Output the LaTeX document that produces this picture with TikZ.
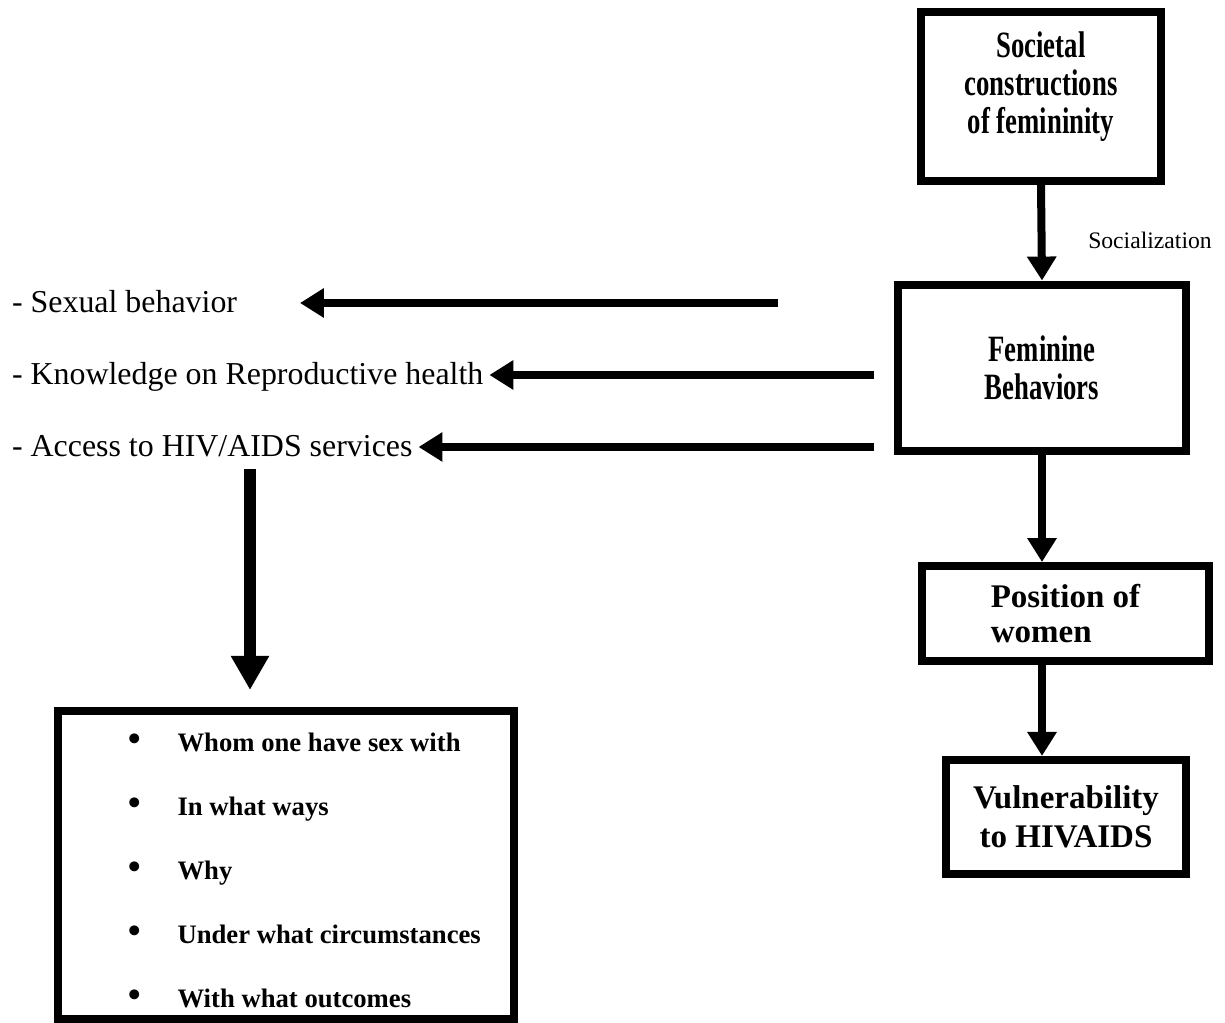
\documentclass[tikz,border=0pt]{standalone}
\usepackage{fontspec}
\setmainfont{Liberation Serif}
\newfontfamily\narrowfont[FakeStretch=0.72]{Liberation Serif}
\usetikzlibrary{arrows.meta}

\tikzset{
	box/.style={draw, line width=2.91pt, inner sep=0pt, font=\bfseries\fontsize{12}{13.8}\selectfont},
	narrowbox/.style={font=\narrowfont\bfseries\fontsize{13.5}{13.8}\selectfont},
	sidetext/.style={inner sep=0pt, outer xsep=2.2pt, anchor=base west, font=\fontsize{11.6}{14}\selectfont},
	itemtext/.style={inner sep=0pt, anchor=base west, font=\bfseries\fontsize{9.7}{12}\selectfont},
	flow/.style={line width=2.91pt, -{Triangle[length=8.7pt, width=10.2pt]}},
	bigflow/.style={line width=4.36pt, -{Triangle[length=12.4pt, width=13.1pt]}}
}

\begin{document}
\begin{tikzpicture}[x=0.3636pt, y=-0.3636pt]
	\useasboundingbox (0,0) rectangle (1225,1023);

	% right column
	\node[box, minimum width=87.3pt, minimum height=61.4pt] (soc) at (1041,96.5) {};
	\node[narrowbox, align=center, inner sep=0pt] (soctext) at (1041,87) {Societal\\constructions\\of femininity};
	\node[box, narrowbox, minimum width=104.7pt, minimum height=60.7pt, align=center] (fem) at (1042,368) {Feminine\\Behaviors};
	\node[box, minimum width=104.4pt, minimum height=34.5pt, align=left, font=\bfseries\fontsize{12}{12.7}\selectfont] (pos) at (1065.5,613.5) {Position of\\women};
	\node[box, minimum width=87.3pt, minimum height=41.5pt, align=center, font=\bfseries\fontsize{12}{14.2}\selectfont] (vul) at (1066,817) {Vulnerability\\to HIVAIDS};

	\draw[flow] (soc.south) -- (fem.north);
	\node[font=\fontsize{8.6}{10}\selectfont, inner sep=0pt] (soclab) at (1150,240) {Socialization};
	\draw[flow] (fem.south) -- (fem.south |- pos.north);
	\draw[flow] (pos.south -| fem.south) -- (fem.south |- vul.north);

	% left column
	\node[sidetext] (sex) at (6,313) {- Sexual behavior};
	\node[sidetext] (know) at (6,385) {- Knowledge on Reproductive health};
	\node[sidetext] (acc) at (6,457) {- Access to HIV/AIDS services};

	\coordinate (sexstart) at (778,303);
	\coordinate (sexend) at (300,303);
	\coordinate (knowstart) at (874,375);
	\coordinate (accstart) at (874,447);
	\draw[flow] (sexstart) -- (sexend);
	\draw[flow] (knowstart) -- (knowstart -| know.east);
	\draw[flow] (accstart) -- (accstart -| acc.east);

	% list box
	\node[box, minimum width=165.8pt, minimum height=112pt] (list) at (286,865) {};
	\coordinate (downtop) at (250,469);
	\coordinate (downtip) at (250,690);
	\draw[bigflow] (downtop) -- (downtip);

	\foreach \txt [count=\i] in {Whom one have sex with, In what ways, Why, Under what circumstances, With what outcomes} {
		\node[inner sep=0pt, anchor=base, font=\fontsize{15}{16}\selectfont] (dot\i) at (135,689+64*\i) {•};
		\node[itemtext] (item\i) at (177,688+64*\i) {\txt};
	}
\end{tikzpicture}
\end{document}
